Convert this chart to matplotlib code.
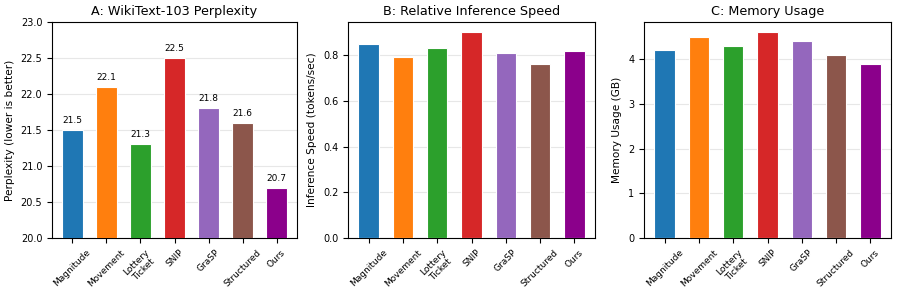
import matplotlib
matplotlib.use('Agg')
import matplotlib.pyplot as plt
import numpy as np

methods = ['Magnitude', 'Movement', 'Lottery\nTicket', 'SNIP', 'GraSP', 'Structured', 'Ours']
perplexity = [21.5, 22.1, 21.3, 22.5, 21.8, 21.6, 20.7]
speed = [0.85, 0.79, 0.83, 0.90, 0.81, 0.76, 0.82]
memory = [4.2, 4.5, 4.3, 4.6, 4.4, 4.1, 3.9]

colors = ['#1f77b4', '#ff7f0e', '#2ca02c', '#d62728', '#9467bd', '#8c564b', '#8b008b']

fig = plt.figure(figsize=(8.97, 2.94), dpi=100)
W, H = 897, 294
boxes = [(52, 297), (348, 595), (644, 891)]
axes = [fig.add_axes([l / W, (H - 238) / H, (r - l) / W, 216 / H]) for l, r in boxes]

x = np.arange(len(methods))

def draw(ax, values, title, ylabel):
    ax.bar(x, values, width=0.6, color=colors, edgecolor='white', linewidth=0.8, zorder=3)
    ax.set_title(title, fontsize=9.2, pad=5)
    ax.set_ylabel(ylabel, fontsize=7.6)
    ax.set_xticks(x)
    ax.set_xticklabels(methods, rotation=45, fontsize=6.5)
    ax.tick_params(axis='y', labelsize=7)
    ax.grid(axis='y', alpha=0.3, zorder=0)
    ax.set_xlim(-0.6, len(methods) - 0.4)

# A: perplexity
ax = axes[0]
draw(ax, perplexity, 'A: WikiText-103 Perplexity', 'Perplexity (lower is better)')
ax.set_ylim(20, 23)
for xi, v in zip(x, perplexity):
    ax.text(xi, v + 0.07, f'{v:.1f}', ha='center', va='bottom', fontsize=6.5)

# B: speed
ax = axes[1]
draw(ax, speed, 'B: Relative Inference Speed', 'Inference Speed (tokens/sec)')
ax.set_ylim(0, max(speed) * 1.05)

# C: memory
ax = axes[2]
draw(ax, memory, 'C: Memory Usage', 'Memory Usage (GB)')
ax.set_ylim(0, max(memory) * 1.05)

fig.savefig('out.png', dpi=100)
